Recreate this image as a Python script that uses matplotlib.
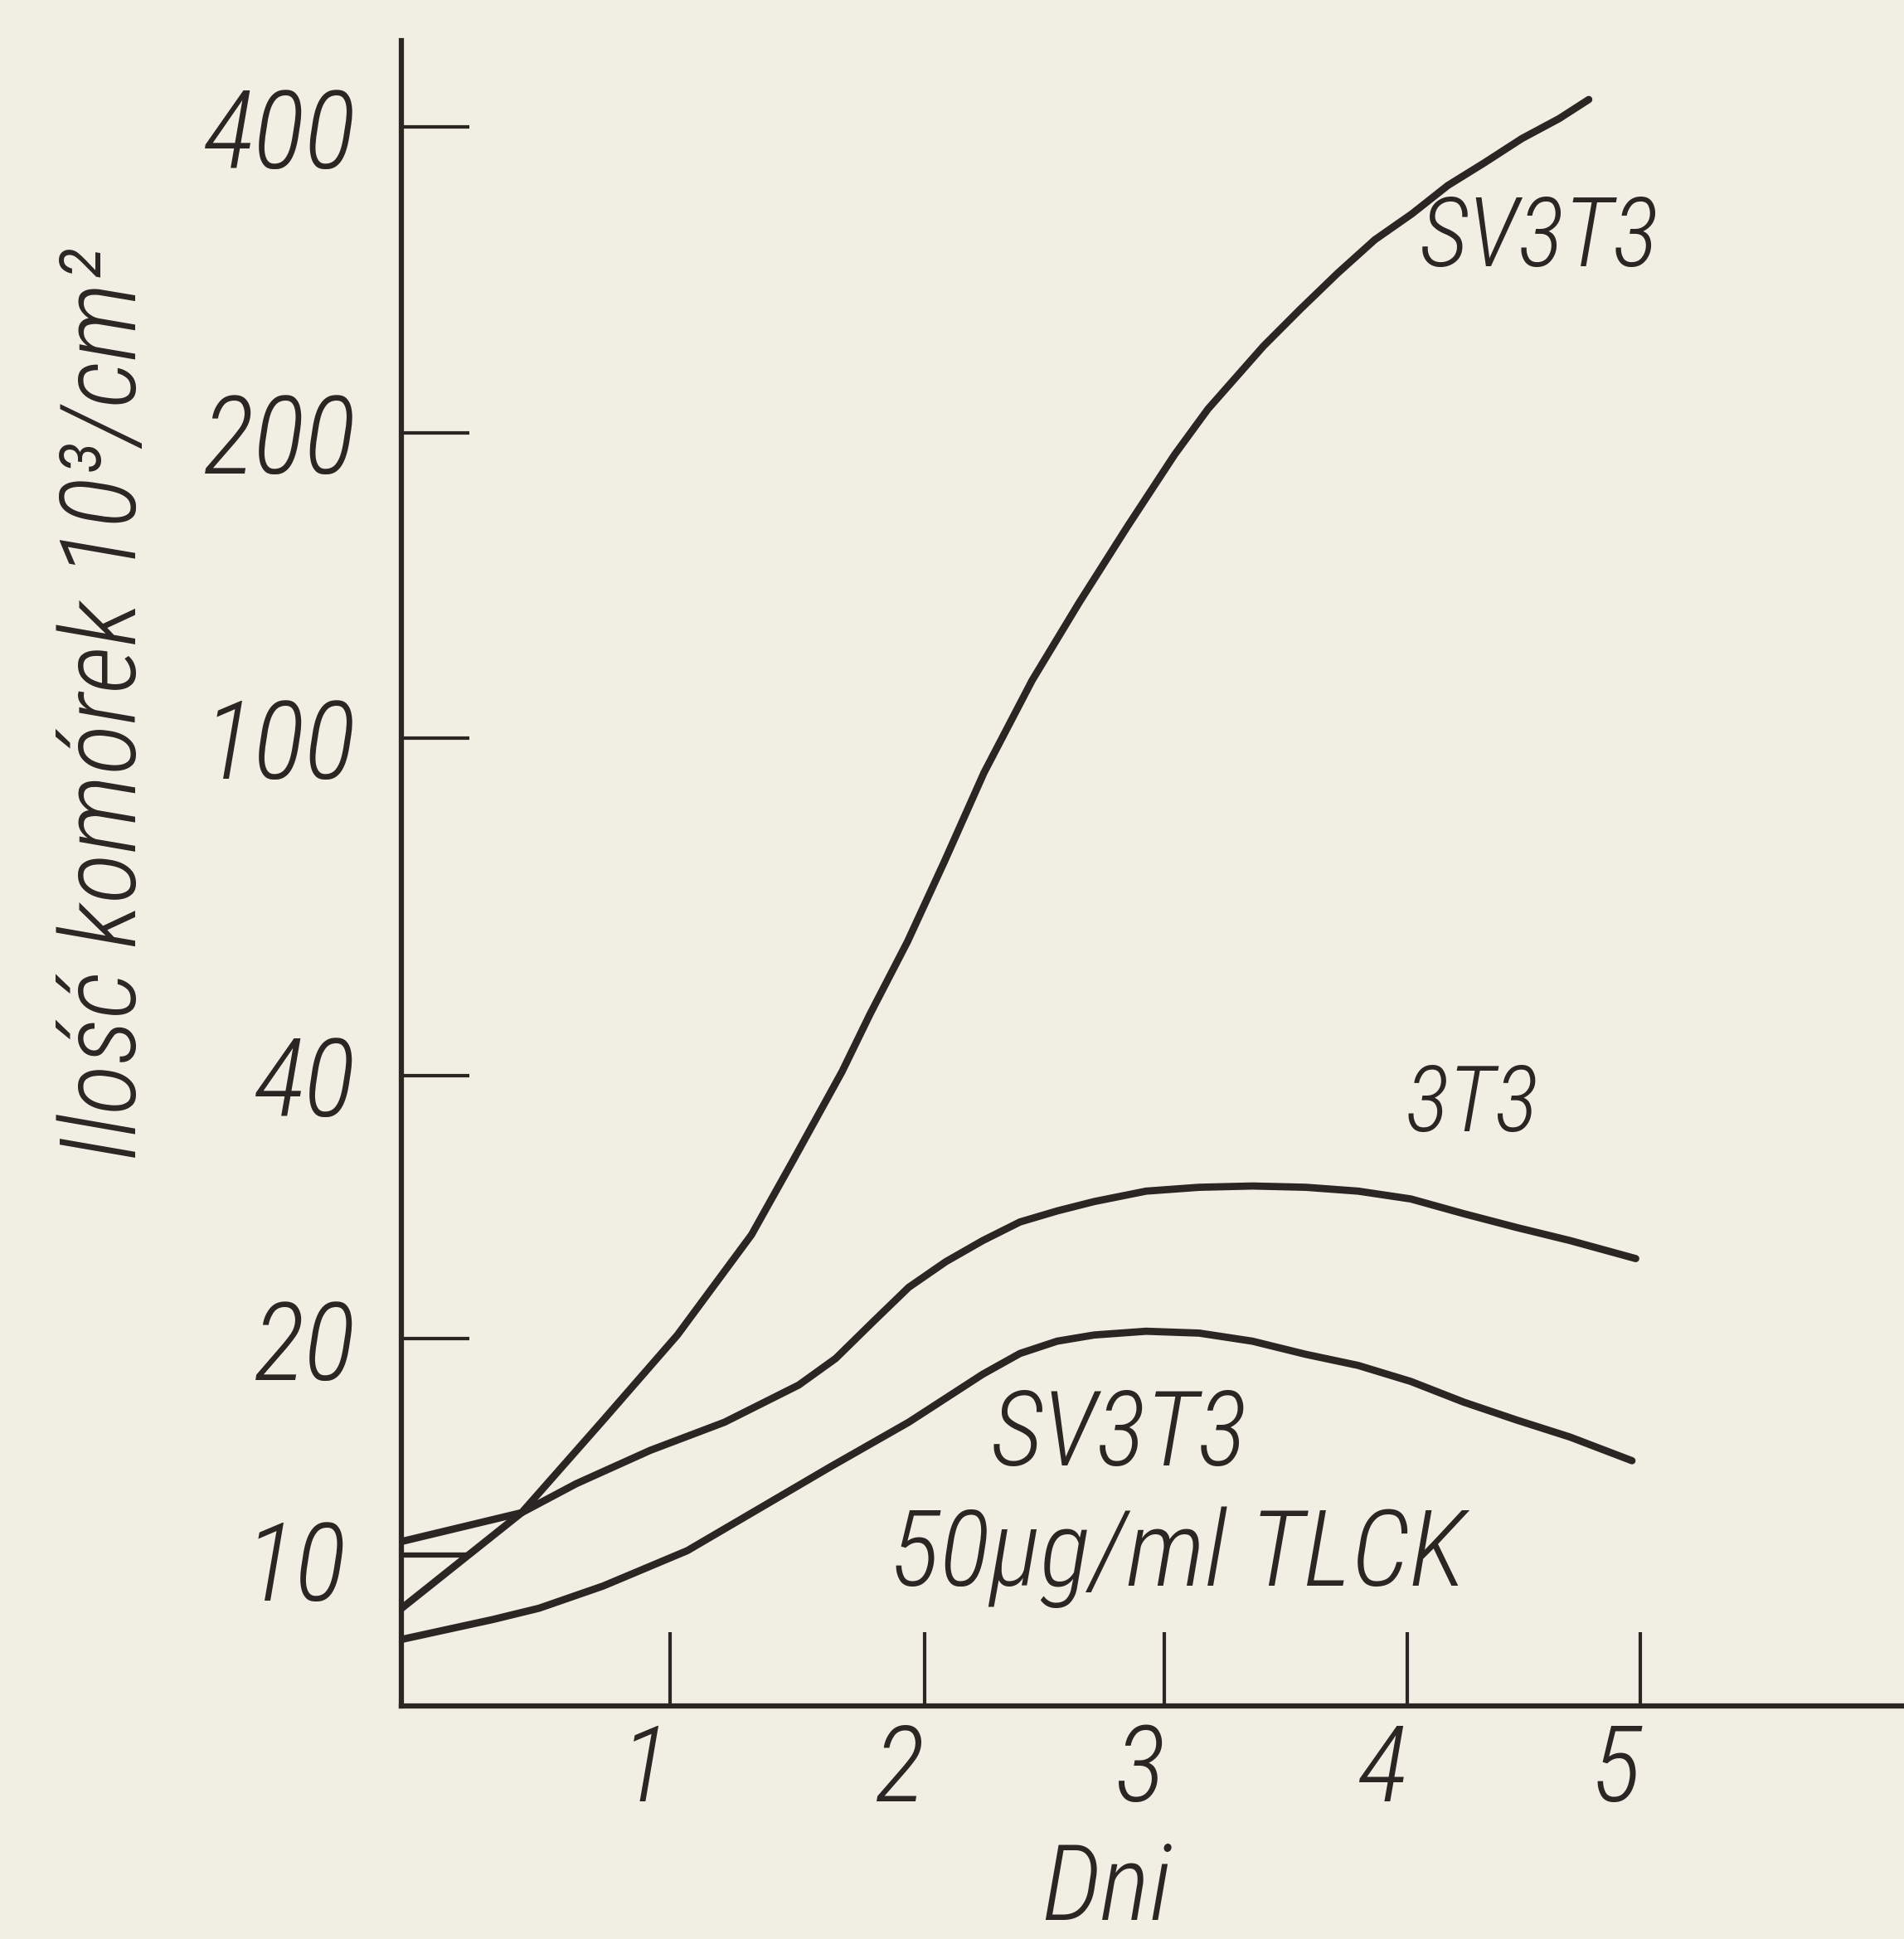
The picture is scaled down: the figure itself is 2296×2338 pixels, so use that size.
#!/usr/bin/env python3
"""
Growth curves of 3T3 and SV3T3 cells (with and without TLCK),
redrawn from a scanned hand-drawn figure.
"""

import numpy as np
import matplotlib
matplotlib.use('Agg')
import matplotlib.pyplot as plt
from matplotlib.ticker import NullLocator
from matplotlib.transforms import ScaledTranslation

# ---- data (days, cells 10^3/cm^2) ----
sv3t3_days = [0.0, 0.447, 0.751, 1.029, 1.320, 1.481, 1.675, 1.786, 1.932, 2.082,
              2.247, 2.448, 2.644, 2.845, 3.041, 3.179, 3.408, 3.561, 3.714, 3.867,
              4.021, 4.175, 4.333, 4.492, 4.651, 4.778]
sv3t3_vals = [8.6, 11.6, 15.5, 20.2, 26.3, 31.9, 40.4, 47.3, 57.5, 71.5,
              91.0, 114.0, 136.0, 161.6, 190.2, 211.0, 243.4, 264.8, 287.2, 309.8,
              328.6, 350.5, 369.2, 389.9, 407.9, 426.0]

t3_days = [0.0, 0.447, 0.650, 0.926, 1.214, 1.505, 1.650, 1.796, 1.937, 2.088,
           2.242, 2.397, 2.552, 2.706, 2.923, 3.143, 3.362, 3.582, 3.798, 4.016,
           4.243, 4.471, 4.698, 4.979]
t3_vals = [10.6, 11.6, 12.7, 14.1, 15.4, 17.3, 18.8, 20.9, 22.9, 24.5,
           25.9, 27.2, 28.0, 28.7, 29.5, 29.8, 29.9, 29.8, 29.5, 28.9,
           27.8, 26.8, 25.9, 24.7]

tlck_days = [0.0, 0.339, 0.512, 0.751, 1.068, 1.359, 1.631, 1.937, 2.242, 2.397,
             2.552, 2.706, 2.923, 3.143, 3.362, 3.582, 3.798, 4.016, 4.243, 4.471,
             4.698, 4.963]
tlck_vals = [7.8, 8.3, 8.6, 9.22, 10.3, 11.8, 13.4, 15.4, 17.9, 19.1,
             19.85, 20.2, 20.4, 20.3, 19.85, 19.05, 18.4, 17.5, 16.4, 15.5,
             14.7, 13.65]

# short stray pen stroke near the origin
stub_days = [0.0, 0.24]
stub_vals = [10.17, 10.17]

x_ticks = [1, 2, 3, 4, 5]
y_ticks = [20, 40, 100, 200, 400]
y_tick_labels = ['20', '40', '100', '200', '400']

INK = '#2b2523'
PAPER = '#f1eee3'


def piecewise(xk, yk):
    """piecewise-linear map with linear extrapolation at both ends"""
    xk = np.asarray(xk, float)
    yk = np.asarray(yk, float)

    def f(x):
        x = np.asarray(x, float)
        y = np.interp(x, xk, yk)
        lo_slope = (yk[1] - yk[0]) / (xk[1] - xk[0])
        hi_slope = (yk[-1] - yk[-2]) / (xk[-1] - xk[-2])
        y = np.where(x < xk[0], yk[0] + (x - xk[0]) * lo_slope, y)
        y = np.where(x > xk[-1], yk[-1] + (x - xk[-1]) * hi_slope, y)
        return y
    return f


# the hand-drawn axes are not evenly spaced, so use the drawn tick spacing
day_knots = [0, 1, 2, 3, 4, 5]
day_pos = [0, 217, 423, 617, 813, 1002]
x_fwd = piecewise(day_knots, day_pos)
x_inv = piecewise(day_pos, day_knots)

log_knots = np.log10([10, 20, 40, 100, 200, 400])
y_pos = [118, 297, 510, 783, 1030, 1277]
_y_fwd = piecewise(log_knots, y_pos)
_y_inv = piecewise(y_pos, log_knots)


def y_fwd(v):
    return _y_fwd(np.log10(np.clip(np.asarray(v, float), 1e-6, None)))


def y_inv(h):
    return 10 ** _y_inv(h)


def main():
    plt.rcParams['font.family'] = ['Roboto Condensed', 'Liberation Sans Narrow',
                                   'Roboto', 'DejaVu Sans']
    plt.rcParams['font.style'] = 'italic'
    plt.rcParams['font.stretch'] = 'condensed'
    plt.rcParams['font.weight'] = 'light'

    fig = plt.figure(figsize=(22.96, 23.38), dpi=100, facecolor=PAPER)
    ax = fig.add_axes([0.211, 0.1202, 0.789, 0.8588])
    ax.set_facecolor(PAPER)

    ax.set_xscale('function', functions=(x_fwd, x_inv))
    ax.set_yscale('function', functions=(y_fwd, y_inv))

    style = dict(color=INK, lw=6.3, solid_capstyle='round', solid_joinstyle='round')
    ax.plot(sv3t3_days, sv3t3_vals, **style)
    ax.plot(t3_days, t3_vals, **style)
    ax.plot(tlck_days, tlck_vals, **style)
    ax.plot(stub_days, stub_vals, color=INK, lw=4.5)

    ax.set_xlim(0, float(x_inv(1215)))
    ax.set_ylim(float(y_inv(0)), float(y_inv(1347)))

    for side in ['top', 'right']:
        ax.spines[side].set_visible(False)
    for side in ['left', 'bottom']:
        ax.spines[side].set_linewidth(4.5)
        ax.spines[side].set_color(INK)

    ax.set_xticks(x_ticks, labels=[str(t) for t in x_ticks])
    ax.set_yticks(y_ticks, labels=y_tick_labels)
    ax.set_yticks([10], labels=['10'], minor=True)
    ax.xaxis.set_minor_locator(NullLocator())

    ax.tick_params(axis='x', direction='in', length=64, width=3, color=INK,
                   pad=14, labelsize=92, labelcolor=INK)
    ax.tick_params(axis='y', which='major', direction='in', length=59, width=3,
                   color=INK, pad=40, labelsize=94, labelcolor=INK)
    ax.tick_params(axis='y', which='minor', length=0, pad=48, labelsize=94,
                   labelcolor=INK)

    # italic numerals lean, so the drawn labels sit a bit left of their ticks
    shift = ScaledTranslation(-0.3, 0, fig.dpi_scale_trans)
    for lbl in ax.get_xticklabels():
        lbl.set_transform(lbl.get_transform() + shift)

    # curve labels and axis titles (figure fractions)
    fig.text(0.8084, 0.8629, 'SV3T3', ha='center', va='baseline',
             fontsize=84, color=INK)
    fig.text(0.7727, 0.4165, '3T3', ha='center', va='baseline',
             fontsize=80, color=INK)
    fig.text(0.5877, 0.2443, 'SV3T3', ha='center', va='baseline',
             fontsize=90, color=INK)
    fig.text(0.6188, 0.1824, '50µg/ml TLCK', ha='center', va='baseline',
             fontsize=92, color=INK)
    fig.text(0.581, 0.010, 'Dni', ha='center', va='baseline',
             fontsize=92, color=INK)
    fig.text(0.056, 0.6365, 'Ilość komórek 10³/cm²', ha='center', va='center',
             rotation=90, fontsize=92, color=INK)

    plt.savefig('out.png', dpi=100, facecolor=PAPER)


if __name__ == "__main__":
    main()
